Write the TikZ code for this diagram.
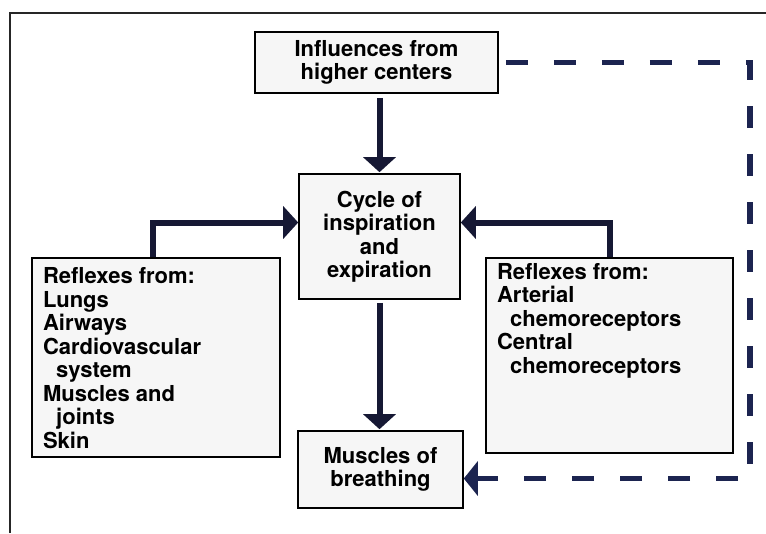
\documentclass[tikz,border=0pt]{standalone}
\usepackage{fontspec}
\setmainfont{TeX Gyre Heros}
\usetikzlibrary{arrows.meta}
\definecolor{inkblue}{RGB}{22,24,52}
\definecolor{dashblue}{RGB}{28,36,80}
\begin{document}
\begin{tikzpicture}[x=1pt,y=-1pt]
\tikzstyle{b}=[draw, line width=1.6pt, fill=gray!7, font=\fontsize{22}{23.5}\selectfont\bfseries, align=center, inner sep=0pt];
\tikzstyle{reflex}=[b, align=left];
\tikzstyle{flow}=[inkblue, line width=6pt, -{Triangle[width=32pt,length=15pt]}];
\tikzstyle{feedback}=[dashblue, line width=5.5pt, dash pattern=on 22pt off 26pt, -{Triangle[width=34pt,length=14pt]}];
\useasboundingbox (0,0) rectangle (766,533);
\draw [line width=2.4pt, black!85] (10,533) |- (766,13);
\node [b, minimum width=243pt, minimum height=61pt] (hc) at (376.5,62.5) {Influences from\\higher centers};
\node [b, minimum width=161pt, minimum height=125pt] (cy) at (379.5,236.5) {Cycle of\\inspiration\\and\\expiration};
\node [b, minimum width=165pt, minimum height=77pt] (mb) at (380.5,469.5) {Muscles of\\breathing};
\node [reflex, minimum width=248pt, minimum height=199pt] (lr) at (156,357.5) {\parbox[c][180pt][t]{226pt}{Reflexes from:\\Lungs\\Airways\\Cardiovascular\\\hspace*{0.6em}system\\Muscles and\\\hspace*{0.6em}joints\\Skin}};
\node [reflex, minimum width=247pt, minimum height=195pt] (rr) at (609.5,355.5) {\parbox[c][185pt][t]{225pt}{Reflexes from:\\Arterial\\\hspace*{0.6em}chemoreceptors\\Central\\\hspace*{0.6em}chemoreceptors}};
\coordinate (dc) at (750,300);
\draw [flow, shorten <=4pt, shorten >=1pt] (hc.south -| cy.north) -- (cy.north);
\draw [flow, shorten <=3pt, shorten >=1pt] (cy.south) -- (cy.south |- mb.north);
\draw [flow] ([xshift=-3pt]lr.north) |- ([yshift=14pt]cy.west);
\draw [flow] (rr.north) |- ([yshift=14pt]cy.east);
\draw [feedback] ([xshift=7pt]hc.east) -| (dc) |- ([yshift=-9pt]mb.east);
\end{tikzpicture}
\end{document}
